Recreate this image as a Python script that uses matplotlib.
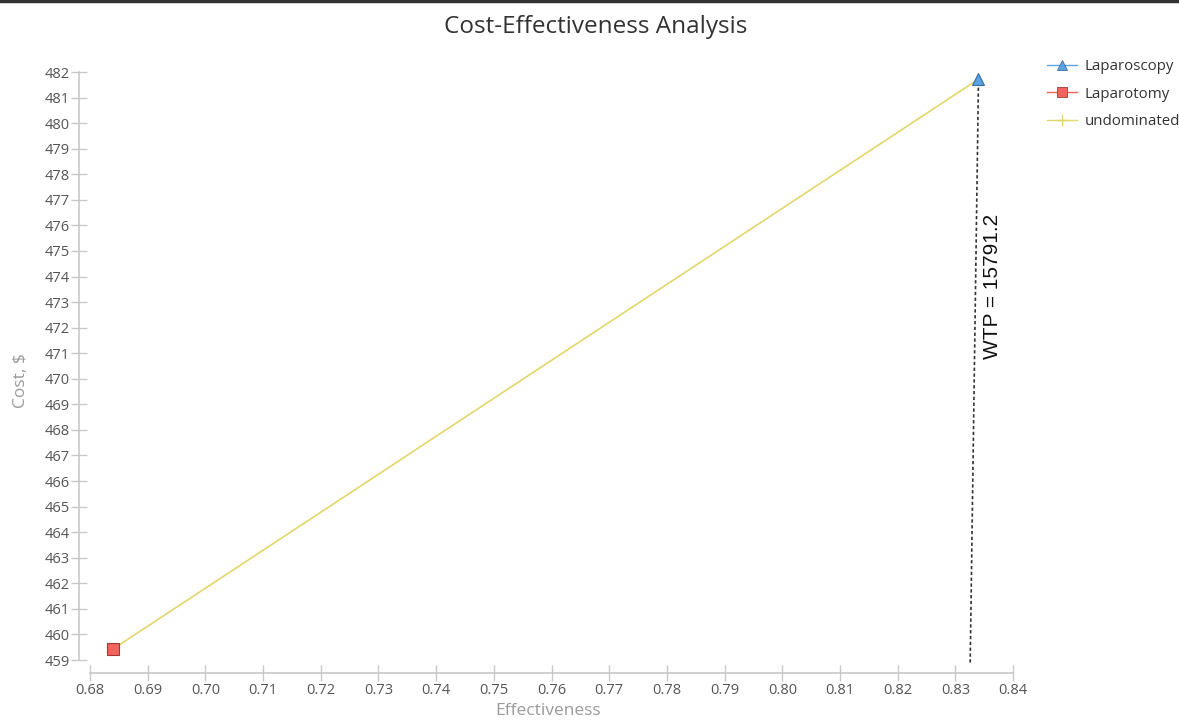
#!/usr/bin/env python3
"""Cost-effectiveness scatter with undominated frontier and WTP line."""

import matplotlib
matplotlib.use("Agg")
import matplotlib.pyplot as plt
from matplotlib.lines import Line2D

strategies = ["Laparoscopy", "Laparotomy"]
effectiveness = [0.834, 0.684]
cost = [481.72, 459.43]
wtp = 15791.2

# undominated frontier (sorted by effectiveness)
frontier_eff = [0.684, 0.834]
frontier_cost = [459.43, 481.72]

x_ticks = [0.68 + 0.01 * i for i in range(17)]
y_ticks = list(range(459, 483))

plt.rcParams["font.family"] = ["Open Sans", "DejaVu Sans"]

fig = plt.figure(figsize=(11.79, 7.2), dpi=100)
ax = fig.add_axes([0.0763, 0.0833, 0.783, 0.8167])

axis_gray = "#c8c8c8"
text_gray = "#555555"

ax.plot(frontier_eff, frontier_cost, color="#e3d66a", linewidth=1.2, zorder=2)

ax.plot(effectiveness[0], cost[0], marker="^", markersize=8, color="#5aa2e0",
        markeredgecolor="#3a6fa5", markeredgewidth=0.8, linestyle="none", zorder=4)
ax.plot(effectiveness[1], cost[1], marker="s", markersize=8, color="#f0645c",
        markeredgecolor="#9e3a33", markeredgewidth=0.8, linestyle="none", zorder=4)

# WTP line through the most effective strategy
y0 = 459.0
x0 = effectiveness[0] - (cost[0] - y0) / wtp
ax.plot([x0, effectiveness[0]], [y0 - 0.1, cost[0]], color="#333333",
        linestyle=(0, (2, 1.5)), linewidth=1.2, zorder=3, clip_on=False)
ax.text(0.8347, 473.6, f"WTP = {wtp}", rotation=90, ha="left", va="center",
        fontsize=15, family=["Liberation Sans", "DejaVu Sans"], color="#111111")

ax.set_xlim(0.68, 0.84)
ax.set_ylim(459, 482)
ax.set_xticks(x_ticks)
ax.set_xticklabels([f"{v:.2f}" for v in x_ticks])
ax.set_yticks(y_ticks)

for side in ["top", "right"]:
    ax.spines[side].set_visible(False)
ax.spines["left"].set_position(("outward", 8))
ax.spines["bottom"].set_position(("outward", 9))
for side in ["left", "bottom"]:
    ax.spines[side].set_color(axis_gray)
    ax.spines[side].set_linewidth(1.2)

ax.tick_params(axis="both", direction="inout", length=11, width=1,
               color=axis_gray, labelcolor=text_gray, labelsize=10.5)
ax.tick_params(axis="y", pad=1)
ax.tick_params(axis="x", pad=2)

ax.set_xlabel("Effectiveness", fontsize=12.5, color="#9a9a9a")
ax.set_ylabel("Cost, $", fontsize=12.5, color="#9a9a9a")
ax.xaxis.set_label_coords(0.496, -0.073)
ax.yaxis.set_label_coords(-0.066, 0.476)

fig.text(0.505, 0.962, "Cost-Effectiveness Analysis", ha="center", va="center",
         fontsize=17.5, color="#333333")

handles = [
    Line2D([], [], color="#5aa2e0", marker="^", markersize=7,
           markeredgecolor="#3a6fa5", markeredgewidth=0.6, linewidth=1),
    Line2D([], [], color="#f0645c", marker="s", markersize=7,
           markeredgecolor="#9e3a33", markeredgewidth=0.6, linewidth=1),
    Line2D([], [], color="#e3d66a", marker="+", markersize=9, linewidth=1),
]
fig.legend(handles, strategies + ["undominated"], loc="upper left",
           bbox_to_anchor=(0.877, 0.937), frameon=False, fontsize=10.8,
           handlelength=2.0, handletextpad=0.5, labelspacing=0.85,
           labelcolor="#333333")

# dark frame line along the top edge
fig.add_artist(Line2D([0, 1], [0.998, 0.998], transform=fig.transFigure,
                      color="#333333", linewidth=2.5))

fig.savefig("out.png", dpi=100)
print("Chart saved to out.png")
